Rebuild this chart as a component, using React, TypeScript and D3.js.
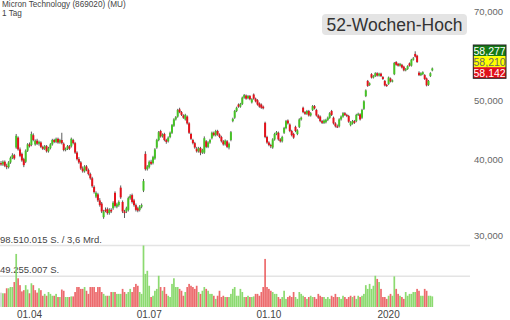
import React from "react";
import * as d3 from "d3";

const title = "Micron Technology (869020) (MU)";
const period = "1 Tag";
const highLabel = "52-Wochen-Hoch";
const quoteValues = [58.277, 58.21, 58.142];
const priceTicks = [30, 40, 50, 70];
const dateTickIndex = [15, 78, 141, 204];
const dateTickLabels = ["01.04", "01.07", "01.10", "2020"];
const volumeTicks = [98510015, 49255007];
const volumeTopSuffix = " / 3,6 Mrd.";

const opens = [
  39.4, 39.2, 39.6, 39.0, 38.8, 39.5, 40.2, 40.6, 41.8, 43.4,
  41.5, 40.8, 40.0, 39.6, 41.3, 42.3, 42.2, 43.8, 42.3, 42.9,
  42.4, 42.6, 41.9, 41.6, 42.0, 41.2, 41.7, 42.3, 43.0, 42.7,
  43.2, 42.6, 43.0, 42.4, 41.4, 41.6, 42.0, 42.0, 43.0, 42.5,
  41.0, 40.0, 39.5, 38.6, 38.2, 38.9, 38.4, 37.8, 37.2, 36.0,
  34.7, 35.0, 34.2, 33.8, 32.1, 33.0, 33.1, 32.6, 33.0, 33.2,
  35.2, 33.4, 33.6, 35.9, 34.0, 32.8, 32.8, 33.0, 34.5, 34.9,
  34.2, 33.6, 33.2, 33.0, 33.4, 35.5, 40.8, 38.5, 38.8, 39.6,
  39.4, 40.1, 41.8, 43.0, 44.5, 43.6, 44.0, 43.0, 42.8, 43.5,
  44.2, 45.4, 46.5, 47.0, 48.3, 47.8, 47.2, 46.5, 47.0, 45.8,
  44.0, 43.0, 42.5, 41.6, 41.2, 41.7, 41.0, 41.0, 42.8, 41.9,
  42.6, 43.3, 44.2, 43.8, 44.5, 43.9, 43.5, 42.8, 42.3, 42.8,
  41.8, 43.0, 46.2, 46.8, 48.0, 49.2, 48.8, 49.3, 50.5, 50.9,
  50.4, 50.8, 49.6, 51.1, 50.3, 50.0, 49.4, 49.2, 48.8, 45.9,
  43.5, 42.6, 42.2, 41.8, 43.1, 44.0, 44.2, 43.1, 42.8, 44.2,
  45.0, 46.3, 45.6, 44.5, 44.0, 45.2, 44.0, 45.2, 46.5, 48.6,
  47.8, 47.5, 48.0, 47.2, 48.2, 48.9, 48.2, 47.2, 47.0, 46.2,
  45.9, 46.0, 46.4, 46.8, 48.0, 46.8, 45.8, 45.3, 45.3, 46.5,
  47.0, 47.6, 47.3, 47.1, 45.5, 45.8, 46.2, 46.2, 47.3, 47.4,
  46.8, 48.4, 50.8, 53.8, 53.0, 55.2, 54.5, 54.8, 55.4, 54.9,
  55.3, 54.6, 53.8, 53.0, 53.2, 54.3, 53.7, 55.2, 57.8, 57.4,
  57.0, 57.2, 56.8, 56.0, 56.3, 57.5, 57.0, 58.3, 59.6, 59.2,
  55.5, 55.0, 55.2, 55.0, 54.3, 53.0, 54.8, 56.0,
];

const highs = [
  39.7, 39.8, 39.8, 39.3, 39.7, 40.4, 40.9, 40.8, 44.0, 43.6,
  41.8, 41.0, 40.2, 41.5, 42.5, 42.6, 44.4, 44.1, 43.1, 43.2,
  42.9, 42.8, 42.1, 42.2, 42.2, 41.9, 42.5, 43.2, 43.2, 43.4,
  43.4, 43.2, 44.2, 42.6, 41.8, 42.2, 42.2, 43.4, 43.2, 42.7,
  41.2, 40.3, 39.7, 38.9, 39.1, 39.1, 38.6, 38.0, 37.4, 36.2,
  35.4, 35.2, 34.5, 34.0, 33.0, 33.3, 33.3, 33.2, 33.2, 34.1,
  35.4, 33.9, 34.2, 36.2, 34.2, 33.0, 33.4, 34.7, 35.0, 35.1,
  34.4, 33.8, 33.4, 33.6, 33.8, 37.1, 41.2, 39.1, 39.8, 39.9,
  40.5, 41.7, 43.2, 44.5, 44.7, 44.1, 44.2, 43.2, 43.6, 44.4,
  45.7, 46.7, 47.1, 48.4, 48.6, 48.0, 47.4, 47.5, 47.2, 46.0,
  44.2, 43.2, 42.7, 41.9, 41.9, 41.9, 41.6, 43.6, 43.0, 42.8,
  43.2, 44.4, 44.4, 44.7, 44.7, 44.1, 43.7, 43.0, 43.1, 43.0,
  42.6, 44.5, 46.8, 48.2, 48.8, 49.4, 49.5, 50.7, 51.2, 51.1,
  51.0, 51.0, 50.4, 51.3, 50.5, 50.2, 49.6, 49.4, 49.0, 46.1,
  43.7, 42.8, 42.4, 43.3, 44.2, 44.5, 44.4, 43.3, 43.7, 45.2,
  46.4, 46.5, 45.8, 44.7, 44.2, 45.4, 44.8, 46.7, 47.0, 48.8,
  48.0, 48.2, 48.2, 47.8, 49.1, 49.1, 48.4, 47.4, 47.2, 46.4,
  46.5, 46.6, 47.0, 47.8, 48.2, 47.0, 46.0, 45.6, 46.7, 47.2,
  47.8, 47.8, 47.5, 47.3, 46.2, 46.4, 46.4, 47.5, 47.7, 47.6,
  48.4, 50.0, 52.1, 54.0, 53.5, 55.4, 55.0, 55.6, 55.6, 55.5,
  55.5, 54.8, 54.0, 53.2, 54.7, 54.5, 54.1, 57.8, 58.0, 57.6,
  57.6, 57.4, 57.0, 56.5, 57.1, 57.7, 58.5, 58.9, 60.2, 59.4,
  55.8, 55.6, 55.8, 55.2, 54.5, 54.0, 55.6, 56.6,
];

const lows = [
  39.0, 39.0, 38.8, 38.5, 38.6, 39.3, 40.0, 39.9, 41.6, 41.3,
  40.3, 39.6, 38.8, 39.4, 41.1, 41.8, 42.0, 42.8, 42.1, 42.2,
  42.1, 41.7, 41.4, 41.4, 41.0, 41.0, 41.5, 42.1, 42.5, 42.5,
  42.4, 42.4, 42.3, 41.2, 41.2, 41.4, 41.4, 41.8, 42.3, 40.8,
  39.8, 39.3, 38.4, 38.0, 38.0, 38.2, 37.6, 37.0, 35.9, 35.1,
  34.5, 34.0, 33.4, 32.6, 31.9, 32.7, 32.4, 32.4, 32.6, 33.0,
  33.3, 33.2, 33.4, 34.4, 32.6, 32.0, 32.6, 32.8, 34.3, 33.8,
  33.4, 32.8, 32.7, 32.8, 33.2, 35.3, 38.3, 38.3, 38.6, 39.1,
  39.2, 39.9, 41.6, 42.8, 43.4, 43.4, 42.8, 42.4, 42.6, 43.3,
  44.0, 45.2, 46.3, 46.8, 47.6, 47.1, 46.6, 46.3, 45.6, 44.0,
  43.0, 42.3, 41.6, 41.0, 41.0, 40.6, 40.8, 40.8, 41.7, 41.7,
  42.4, 43.1, 43.6, 43.6, 43.7, 43.3, 42.6, 42.1, 42.1, 41.7,
  41.5, 42.8, 46.0, 46.6, 47.8, 48.6, 48.6, 49.1, 50.3, 50.1,
  50.2, 50.0, 49.4, 50.1, 49.6, 49.0, 48.6, 48.4, 48.3, 43.3,
  42.4, 42.0, 41.7, 41.6, 42.9, 43.8, 42.9, 42.6, 42.6, 44.0,
  44.8, 45.6, 44.3, 43.6, 43.2, 44.3, 43.8, 45.0, 46.3, 47.6,
  47.3, 47.3, 47.0, 47.0, 48.0, 48.3, 47.0, 46.6, 46.0, 45.7,
  45.7, 45.8, 46.2, 46.6, 47.1, 45.6, 45.1, 45.0, 45.1, 46.3,
  46.8, 47.1, 46.9, 45.9, 45.3, 45.6, 45.7, 46.0, 47.1, 46.3,
  46.6, 48.2, 50.6, 52.6, 52.8, 54.3, 54.3, 54.6, 54.7, 54.7,
  54.6, 54.0, 52.7, 52.6, 53.0, 53.5, 53.5, 55.0, 57.0, 56.8,
  56.8, 56.4, 55.8, 55.8, 56.1, 56.8, 56.8, 58.1, 58.8, 57.6,
  54.8, 54.8, 55.0, 54.0, 52.7, 52.8, 54.6, 55.8,
];

const closes = [
  39.2, 39.6, 39.0, 38.8, 39.5, 40.2, 40.6, 40.1, 43.7, 41.5,
  40.5, 39.8, 39.1, 41.3, 42.3, 42.0, 44.0, 43.0, 42.9, 42.4,
  42.7, 41.9, 41.6, 42.0, 41.2, 41.7, 42.3, 43.0, 42.7, 43.2,
  42.6, 43.0, 42.5, 41.4, 41.6, 42.0, 41.6, 43.2, 42.5, 41.0,
  40.0, 39.5, 38.6, 38.2, 38.9, 38.4, 37.8, 37.2, 36.1, 35.3,
  35.2, 34.2, 33.6, 32.8, 32.8, 32.9, 32.6, 33.0, 32.8, 33.9,
  33.5, 33.7, 34.0, 34.6, 32.8, 32.6, 33.2, 34.5, 34.8, 34.0,
  33.6, 33.0, 32.9, 33.4, 33.6, 36.8, 38.5, 38.9, 39.6, 39.3,
  40.3, 41.5, 43.0, 44.3, 43.6, 43.9, 43.0, 42.7, 43.4, 44.2,
  45.5, 46.5, 46.9, 48.2, 47.8, 47.3, 46.8, 47.3, 45.8, 44.2,
  43.2, 42.5, 41.8, 41.2, 41.7, 41.0, 41.4, 43.3, 41.9, 42.6,
  43.0, 44.2, 43.8, 44.5, 43.9, 43.5, 42.8, 42.3, 42.9, 41.9,
  42.4, 44.3, 46.6, 48.0, 48.6, 48.8, 49.3, 50.5, 51.0, 50.3,
  50.8, 50.2, 50.2, 50.3, 49.8, 49.2, 48.8, 48.6, 48.5, 43.5,
  42.6, 42.2, 42.0, 43.1, 44.0, 44.3, 43.1, 42.8, 43.5, 45.0,
  46.2, 45.8, 44.5, 43.8, 43.4, 44.5, 44.6, 46.5, 46.8, 47.8,
  47.5, 48.0, 47.2, 47.6, 48.9, 48.5, 47.2, 46.8, 46.2, 45.9,
  46.3, 46.4, 46.8, 47.6, 47.3, 45.8, 45.3, 45.2, 46.5, 47.0,
  47.6, 47.3, 47.1, 46.1, 46.0, 46.2, 45.9, 47.3, 47.5, 46.5,
  48.2, 49.8, 51.9, 52.8, 53.3, 54.5, 54.8, 55.4, 54.9, 55.3,
  54.8, 54.2, 52.9, 52.8, 54.5, 53.7, 53.9, 57.6, 57.2, 57.0,
  57.4, 56.6, 56.0, 56.3, 56.9, 57.0, 58.3, 58.6, 59.0, 57.8,
  55.0, 55.4, 55.6, 54.2, 52.9, 53.8, 55.4, 56.4,
];

// volume in millions of shares
const volumes = [
  23, 22, 22, 30, 30, 32, 32, 40, 85, 46,
  35, 25, 27, 35, 28, 22, 38, 35, 27, 23,
  30, 27, 18, 21, 18, 24, 21, 18, 18, 21,
  16, 16, 28, 26, 16, 16, 16, 17, 17, 24,
  32, 32, 29, 29, 32, 26, 21, 32, 32, 32,
  24, 32, 32, 24, 21, 18, 18, 18, 24, 24,
  24, 21, 21, 21, 29, 24, 21, 24, 29, 24,
  32, 37, 34, 24, 21, 98.5, 53, 58, 34, 16,
  18, 26, 29, 50, 32, 26, 32, 21, 18, 16,
  37, 46, 32, 32, 29, 26, 18, 24, 32, 37,
  34, 32, 29, 34, 24, 21, 26, 32, 29, 26,
  21, 21, 18, 13, 18, 26, 16, 18, 16, 16,
  16, 21, 29, 32, 18, 18, 29, 24, 16, 16,
  18, 16, 16, 17, 21, 21, 18, 24, 32, 77,
  32, 29, 26, 24, 21, 21, 16, 13, 16, 26,
  13, 16, 18, 16, 24, 16, 13, 24, 21, 18,
  16, 13, 16, 18, 16, 16, 13, 21, 18, 16,
  16, 13, 16, 13, 18, 16, 21, 16, 16, 13,
  18, 16, 13, 16, 18, 16, 18, 13, 18, 16,
  18, 21, 35, 29, 37, 29, 34, 50, 45, 40,
  29, 16, 16, 13, 18, 21, 18, 49, 29, 21,
  18, 16, 13, 24, 18, 21, 21, 24, 24, 29,
  26, 18, 18, 29, 26, 18, 18, 17,
];

const FONT = "'Liberation Sans', Arial, sans-serif";
const CANDLE_UP = "#46c326";
const CANDLE_DOWN = "#e3121b";
const VOL_UP = "#80d660";
const VOL_DOWN = "#ea5a5c";

export default function App() {
  const W = 510;
  const H = 320;
  const n = closes.length;
  const x = d3.scaleLinear().domain([0, n - 1]).range([1, 432.3]);
  const y = d3.scaleLog().domain([30, 70]).range([235, 11.5]);
  const vy = d3.scaleLinear().domain([0, volumeTicks[0] / 1e6]).range([307, 245.5]);
  const de = d3.formatLocale({ decimal: ",", thousands: ".", grouping: [3], currency: ["", ""] });
  const fPrice = de.format(",.3f");
  const fVol = de.format(",d");

  const quoteFills = ["#167a16", "#ffff00", "#e0101a"];
  const quoteText = ["#ffffff", "#666666", "#ffffff"];
  const boxTop = 45;
  const boxH = 11.1;

  return (
    <svg
      width={W}
      height={H}
      viewBox={`0 0 ${W} ${H}`}
      style={{ position: "absolute", left: 0, top: 0, display: "block", background: "#fff" }}
      fontFamily={FONT}
    >
      <rect x={0} y={0} width={W} height={H} fill="#fff" />

      {/* volume gridlines */}
      {volumeTicks.map((t) => (
        <line key={t} x1={0} x2={470} y1={vy(t / 1e6)} y2={vy(t / 1e6)} stroke="#e4e4e4" strokeWidth={1.6} />
      ))}
      {volumeTicks.map((t, i) => (
        <text key={"vl" + t} x={0} y={vy(t / 1e6) - 3} fontSize={9.5} fill="#444">
          {fVol(t) + " S." + (i === 0 ? volumeTopSuffix : "")}
        </text>
      ))}

      {/* volume bars */}
      {volumes.map((v, i) => {
        const up = i === 0 ? null : closes[i] >= closes[i - 1];
        const fill = up === null ? "#cccccc" : up ? VOL_UP : VOL_DOWN;
        return (
          <rect
            key={"v" + i}
            x={x(i) - 0.85}
            width={1.7}
            y={vy(v)}
            height={vy(0) - vy(v)}
            fill={fill}
            opacity={0.9}
          />
        );
      })}

      {/* candles */}
      {closes.map((c, i) => {
        const o = opens[i];
        const up = c >= o;
        const cx = x(i);
        const yTop = y(Math.max(o, c));
        const yBot = y(Math.min(o, c));
        return (
          <g key={"c" + i}>
            <line x1={cx} x2={cx} y1={y(highs[i])} y2={y(lows[i])} stroke="#4a4a4a" strokeWidth={0.9} />
            <rect
              x={cx - 1}
              width={2}
              y={yTop}
              height={Math.max(1.2, yBot - yTop)}
              fill={up ? CANDLE_UP : CANDLE_DOWN}
            />
          </g>
        );
      })}

      {/* price axis labels */}
      {priceTicks.map((t) => (
        <text key={"p" + t} x={503} y={y(t)} fontSize={9.5} fill="#666" textAnchor="end" dominantBaseline="central">
          {fPrice(t)}
        </text>
      ))}

      {/* date labels */}
      {dateTickIndex.map((idx, i) => (
        <text key={"d" + i} x={x(idx)} y={317.5} fontSize={10} fill="#444" textAnchor="middle">
          {dateTickLabels[i]}
        </text>
      ))}

      {/* title */}
      <text x={2} y={7.4} fontSize={8.2} fill="#444">{title}</text>
      <text x={2} y={16.4} fontSize={8.2} fill="#444">{period}</text>

      {/* 52 week high badge */}
      <rect x={322} y={14} width={145} height={21} rx={4} fill="#e4e4e4" />
      <text x={394.5} y={31.3} fontSize={17.5} fill="#333" textAnchor="middle">{highLabel}</text>

      {/* quote boxes */}
      {quoteValues.map((q, i) => (
        <g key={"q" + i}>
          <rect x={473.3} y={boxTop + i * boxH} width={32.7} height={boxH} fill={quoteFills[i]} />
          <text
            x={489.6}
            y={boxTop + i * boxH + boxH / 2 + 0.5}
            fontSize={10.5}
            fill={quoteText[i]}
            textAnchor="middle"
            dominantBaseline="central"
          >
            {fPrice(q)}
          </text>
        </g>
      ))}
      <rect x={473.3} y={boxTop} width={32.7} height={boxH * 3} fill="none" stroke="#222" strokeWidth={1} />
    </svg>
  );
}
